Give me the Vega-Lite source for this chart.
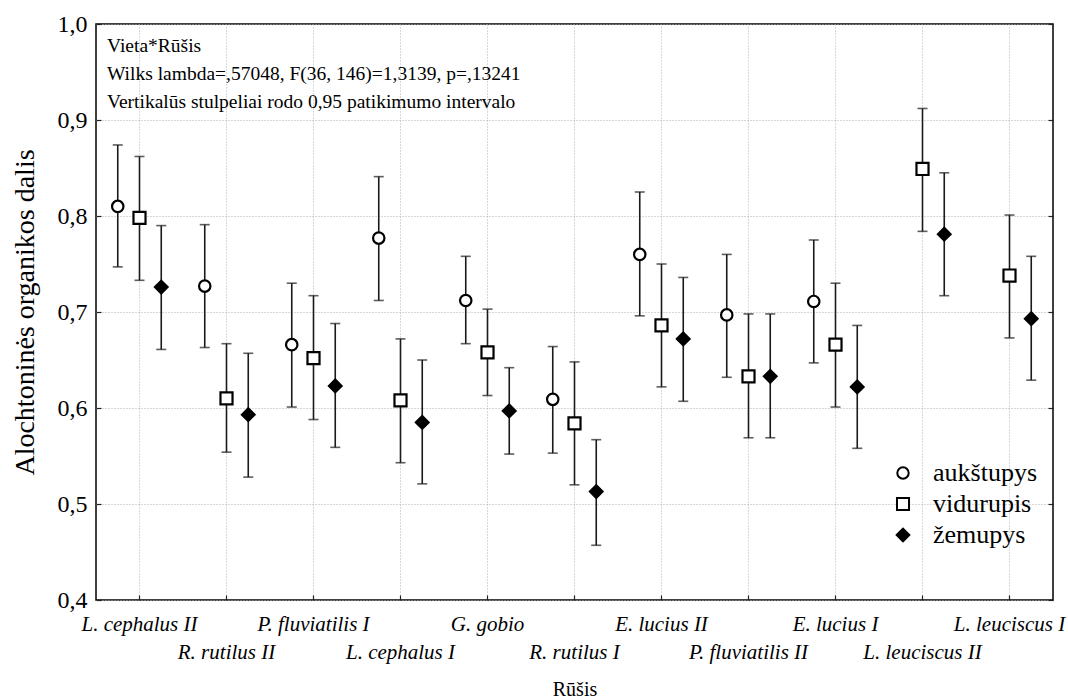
{
  "$schema": "https://vega.github.io/schema/vega-lite/v6.json",
  "width": 957,
  "height": 576,
  "autosize": {"type": "none"},
  "padding": {"left": 96, "top": 24, "right": 15, "bottom": 99},
  "background": "white",
  "config": {
    "font": "Liberation Serif",
    "view": {"stroke": "black", "strokeWidth": 1.5},
    "axis": {"domain": false, "gridColor": "#b0b0b0", "gridDash": [1, 2], "gridWidth": 1, "tickColor": "#222", "tickWidth": 1.2, "labelColor": "black", "titleColor": "black", "titleFontWeight": "normal"},
    "legend": {"labelFont": "Liberation Serif", "labelFontSize": 26, "labelColor": "black"}
  },
  "resolve": {"axis": {"y": "independent"}},
  "data": {
    "values": [
      {"species": "L. cephalus II", "site": "aukštupys", "mean": 0.810, "lo": 0.747, "hi": 0.874},
      {"species": "L. cephalus II", "site": "vidurupis", "mean": 0.798, "lo": 0.733, "hi": 0.862},
      {"species": "L. cephalus II", "site": "žemupys", "mean": 0.726, "lo": 0.661, "hi": 0.790},
      {"species": "R. rutilus II", "site": "aukštupys", "mean": 0.727, "lo": 0.663, "hi": 0.791},
      {"species": "R. rutilus II", "site": "vidurupis", "mean": 0.610, "lo": 0.554, "hi": 0.667},
      {"species": "R. rutilus II", "site": "žemupys", "mean": 0.593, "lo": 0.528, "hi": 0.657},
      {"species": "P. fluviatilis I", "site": "aukštupys", "mean": 0.666, "lo": 0.601, "hi": 0.730},
      {"species": "P. fluviatilis I", "site": "vidurupis", "mean": 0.652, "lo": 0.588, "hi": 0.717},
      {"species": "P. fluviatilis I", "site": "žemupys", "mean": 0.623, "lo": 0.559, "hi": 0.688},
      {"species": "L. cephalus I", "site": "aukštupys", "mean": 0.777, "lo": 0.712, "hi": 0.841},
      {"species": "L. cephalus I", "site": "vidurupis", "mean": 0.608, "lo": 0.543, "hi": 0.672},
      {"species": "L. cephalus I", "site": "žemupys", "mean": 0.585, "lo": 0.521, "hi": 0.650},
      {"species": "G. gobio", "site": "aukštupys", "mean": 0.712, "lo": 0.667, "hi": 0.758},
      {"species": "G. gobio", "site": "vidurupis", "mean": 0.658, "lo": 0.613, "hi": 0.703},
      {"species": "G. gobio", "site": "žemupys", "mean": 0.597, "lo": 0.552, "hi": 0.642},
      {"species": "R. rutilus I", "site": "aukštupys", "mean": 0.609, "lo": 0.553, "hi": 0.664},
      {"species": "R. rutilus I", "site": "vidurupis", "mean": 0.584, "lo": 0.520, "hi": 0.648},
      {"species": "R. rutilus I", "site": "žemupys", "mean": 0.513, "lo": 0.457, "hi": 0.567},
      {"species": "E. lucius II", "site": "aukštupys", "mean": 0.760, "lo": 0.696, "hi": 0.825},
      {"species": "E. lucius II", "site": "vidurupis", "mean": 0.686, "lo": 0.622, "hi": 0.750},
      {"species": "E. lucius II", "site": "žemupys", "mean": 0.672, "lo": 0.607, "hi": 0.736},
      {"species": "P. fluviatilis II", "site": "aukštupys", "mean": 0.697, "lo": 0.632, "hi": 0.760},
      {"species": "P. fluviatilis II", "site": "vidurupis", "mean": 0.633, "lo": 0.569, "hi": 0.698},
      {"species": "P. fluviatilis II", "site": "žemupys", "mean": 0.633, "lo": 0.569, "hi": 0.698},
      {"species": "E. lucius I", "site": "aukštupys", "mean": 0.711, "lo": 0.647, "hi": 0.775},
      {"species": "E. lucius I", "site": "vidurupis", "mean": 0.666, "lo": 0.601, "hi": 0.730},
      {"species": "E. lucius I", "site": "žemupys", "mean": 0.622, "lo": 0.558, "hi": 0.686},
      {"species": "L. leuciscus II", "site": "vidurupis", "mean": 0.849, "lo": 0.784, "hi": 0.912},
      {"species": "L. leuciscus II", "site": "žemupys", "mean": 0.781, "lo": 0.717, "hi": 0.845},
      {"species": "L. leuciscus I", "site": "vidurupis", "mean": 0.738, "lo": 0.673, "hi": 0.801},
      {"species": "L. leuciscus I", "site": "žemupys", "mean": 0.693, "lo": 0.629, "hi": 0.758}
    ]
  },
  "encoding": {
    "x": {
      "field": "species", "type": "nominal",
      "sort": ["L. cephalus II", "R. rutilus II", "P. fluviatilis I", "L. cephalus I", "G. gobio", "R. rutilus I", "E. lucius II", "P. fluviatilis II", "E. lucius I", "L. leuciscus II", "L. leuciscus I"],
      "scale": {"type": "band", "paddingInner": 0, "paddingOuter": 0},
      "axis": {
        "title": "Rūšis", "titleFontSize": 20, "titlePadding": 17,
        "labelAngle": 0, "labelFontSize": 21, "labelFontStyle": "italic", "labelPadding": 18, "labelLineHeight": 28,
        "labelExpr": "indexof(['R. rutilus II','L. cephalus I','R. rutilus I','P. fluviatilis II','L. leuciscus II'], datum.value) >= 0 ? ['', datum.label] : datum.label",
        "labelOverlap": false, "labelBound": false, "ticks": true, "tickSize": -5, "grid": true, "bandPosition": 0.5
      }
    },
    "xOffset": {
      "field": "site", "type": "nominal",
      "scale": {"type": "point", "domain": ["aukštupys", "vidurupis", "žemupys"], "padding": 2.346}
    }
  },
  "layer": [
    {
      "mark": {"type": "rule", "color": "#1a1a1a", "strokeWidth": 1.6},
      "encoding": {
        "y": {"field": "lo", "type": "quantitative", "axis": null},
        "y2": {"field": "hi"}
      }
    },
    {
      "mark": {"type": "tick", "color": "#1a1a1a", "size": 10, "thickness": 1.6},
      "encoding": {"y": {"field": "hi", "type": "quantitative",
        "axis": {"orient": "right", "labels": false, "title": null, "grid": false, "tickSize": -5, "values": [0.4, 0.5, 0.6, 0.7, 0.8, 0.9, 1.0]}}}
    },
    {
      "mark": {"type": "tick", "color": "#1a1a1a", "size": 10, "thickness": 1.6},
      "encoding": {"y": {"field": "lo", "type": "quantitative", "axis": null}}
    },
    {
      "mark": {"type": "point", "filled": true, "strokeWidth": 2.2, "opacity": 1},
      "encoding": {
        "y": {
          "field": "mean", "type": "quantitative",
          "scale": {"domain": [0.4, 1.0], "nice": false, "zero": false},
          "axis": {
            "orient": "left",
            "title": "Alochtoninės organikos dalis", "titleFontSize": 28, "titlePadding": 18,
            "values": [0.4, 0.5, 0.6, 0.7, 0.8, 0.9, 1.0],
            "labelExpr": "replace(format(datum.value, '.1f'), '.', ',')",
            "labelFontSize": 24, "labelPadding": 14, "tickSize": -5, "grid": true
          }
        },
        "shape": {
          "field": "site", "type": "nominal",
          "scale": {"domain": ["aukštupys", "vidurupis", "žemupys"], "range": ["circle", "square", "diamond"]},
          "legend": {"title": null, "orient": "none", "legendX": 794, "legendY": 436, "symbolStrokeWidth": 2, "rowPadding": 5, "labelOffset": 17, "padding": 0}
        },
        "fill": {
          "field": "site", "type": "nominal",
          "scale": {"domain": ["aukštupys", "vidurupis", "žemupys"], "range": ["white", "white", "black"]},
          "legend": {"title": null, "orient": "none", "legendX": 794, "legendY": 436, "symbolStrokeWidth": 2, "rowPadding": 5, "labelOffset": 17, "padding": 0}
        },
        "stroke": {
          "field": "site", "type": "nominal",
          "scale": {"domain": ["aukštupys", "vidurupis", "žemupys"], "range": ["black", "black", "black"]},
          "legend": {"title": null, "orient": "none", "legendX": 794, "legendY": 436, "symbolStrokeWidth": 2, "rowPadding": 5, "labelOffset": 17, "padding": 0}
        },
        "size": {
          "field": "site", "type": "nominal",
          "scale": {"domain": ["aukštupys", "vidurupis", "žemupys"], "range": [130, 160, 150]},
          "legend": {"title": null, "orient": "none", "legendX": 794, "legendY": 436, "symbolStrokeWidth": 2, "rowPadding": 5, "labelOffset": 17, "padding": 0}
        }
      }
    },
    {
      "data": {"values": [{}]},
      "mark": {"type": "text", "align": "left", "baseline": "middle", "fontSize": 19.5, "lineHeight": 28, "color": "black", "dx": 11},
      "encoding": {
        "x": {"datum": "L. cephalus II"},
        "y": {"datum": 0.977, "axis": null},
        "xOffset": {"value": 0},
        "text": {"value": ["Vieta*Rūšis", "Wilks lambda=,57048, F(36, 146)=1,3139, p=,13241", "\u00a0Vertikalūs stulpeliai rodo 0,95 patikimumo intervalo"]}
      }
    }
  ]
}
